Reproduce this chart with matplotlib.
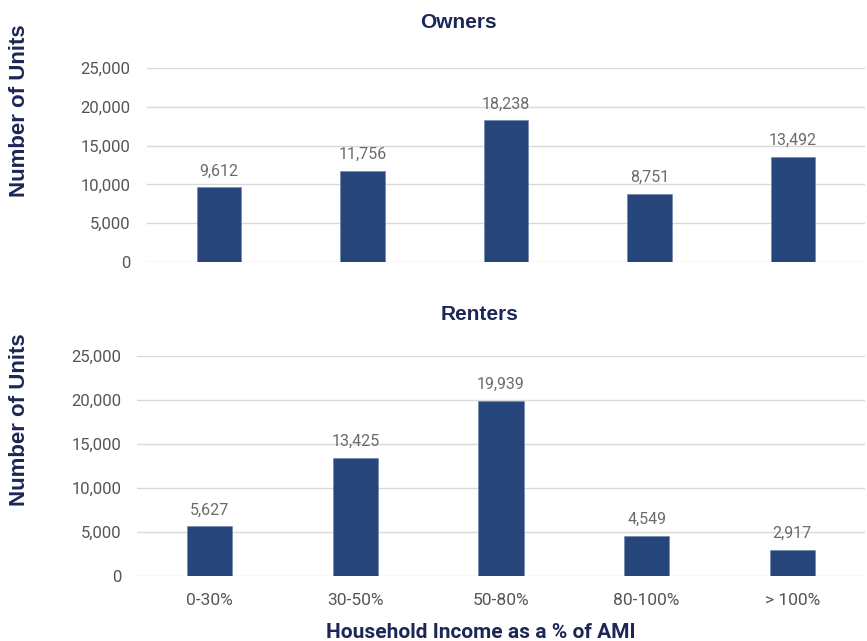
import matplotlib.pyplot as plt
from matplotlib.ticker import FuncFormatter

plt.rcParams['font.family'] = ['Roboto', 'DejaVu Sans']

categories = ['0-30%', '30-50%', '50-80%', '80-100%', '> 100%']
owners = [9612, 11756, 18238, 8751, 13492]
renters = [5627, 13425, 19939, 4549, 2917]
yticks = [0, 5000, 10000, 15000, 20000, 25000]

BAR = '#26457a'
NAVY = '#1c2757'
W, H = 867, 641
HEAD = ['Liberation Sans', 'DejaVu Sans']


def style_axis(ax, values, show_xticks, ypad):
    x = range(len(values))
    ax.bar(x, values, width=0.31, color=BAR, edgecolor='#6d82a8',
           linewidth=0.4, zorder=3)
    for i, v in enumerate(values):
        ax.annotate(f'{v:,}', (i, v), xytext=(0, 6.5), textcoords='offset points',
                    ha='center', va='bottom', fontsize=11.5, color='#6b6b6b')
    ax.set_ylim(0, 25000)
    ax.set_xlim(-0.5, len(values) - 0.5)
    ax.set_yticks(yticks)
    ax.yaxis.set_major_formatter(FuncFormatter(lambda v, p: f'{int(v):,}'))
    ax.grid(axis='y', color='#d9d9d9', linewidth=1, zorder=0)
    for s in ax.spines.values():
        s.set_visible(False)
    ax.tick_params(axis='y', length=0, pad=ypad, labelsize=12, labelcolor='#555555')
    ax.set_xticks(list(x))
    if show_xticks:
        ax.set_xticklabels(categories)
        ax.tick_params(axis='x', length=0, pad=12, labelsize=12.5, labelcolor='#555555')
    else:
        ax.set_xticklabels([])
        ax.tick_params(axis='x', length=0)


fig = plt.figure(figsize=(W / 100, H / 100), dpi=100)

ax1 = fig.add_axes([147 / W, 1 - 262 / H, (865 - 147) / W, (262 - 68) / H])
style_axis(ax1, owners, False, 12)

ax2 = fig.add_axes([137 / W, 1 - 576 / H, (865 - 137) / W, (576 - 356) / H])
style_axis(ax2, renters, True, 11)

fig.text(458 / W, 1 - 23 / H, 'Owners', ha='center', va='center',
         fontsize=15, fontweight='bold', color=NAVY, family=HEAD)
fig.text(480 / W, 1 - 315 / H, 'Renters', ha='center', va='center',
         fontsize=15, fontweight='bold', color=NAVY, family=HEAD)
fig.text(20 / W, 1 - 111 / H, 'Number of Units', rotation=90, ha='center',
         va='center', fontsize=16, fontweight='bold', color=NAVY, family=HEAD)
fig.text(20 / W, 1 - 420 / H, 'Number of Units', rotation=90, ha='center',
         va='center', fontsize=16, fontweight='bold', color=NAVY, family=HEAD)
fig.text(481 / W, 1 - 632 / H, 'Household Income as a % of AMI', ha='center',
         va='center', fontsize=15, fontweight='bold', color=NAVY)

fig.savefig('out.png', dpi=100)
